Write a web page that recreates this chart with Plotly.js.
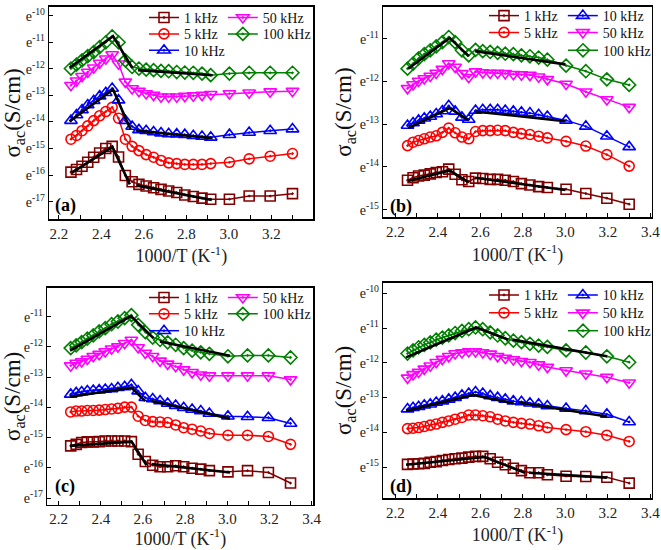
<!DOCTYPE html>
<html>
<head>
<meta charset="utf-8">
<script src="https://cdn.plot.ly/plotly-3.0.1.min.js"></script>
<style>html,body{margin:0;padding:0;background:#fff;}#chart{width:661px;height:550px;}</style>
</head>
<body>
<div id="chart"></div>
<script>
// 1000/T values (K^-1) of the measurement temperatures
const xT = [2.257, 2.283, 2.309, 2.336, 2.364, 2.392, 2.421, 2.451, 2.481, 2.513, 2.545, 2.577, 2.611, 2.646, 2.681, 2.717, 2.755, 2.793, 2.833, 2.874, 2.915, 3.003, 3.096, 3.195, 3.300];
const freqLabels = ['1 kHz', '5 kHz', '10 kHz', '50 kHz', '100 kHz'];

// ln(sigma_ac) values, panel (a)
const a1k   = [-15.89, -15.79, -15.67, -15.52, -15.33, -15.17, -15.00, -14.92, -15.32, -16.02, -16.25, -16.35, -16.41, -16.48, -16.54, -16.60, -16.66, -16.75, -16.81, -16.87, -16.91, -16.91, -16.79, -16.79, -16.70];
const a5k   = [-14.65, -14.51, -14.33, -14.15, -13.95, -13.77, -13.61, -13.45, -13.86, -14.65, -14.92, -15.08, -15.23, -15.33, -15.45, -15.54, -15.57, -15.60, -15.60, -15.60, -15.57, -15.52, -15.39, -15.29, -15.19];
const a10k  = [-13.95, -13.74, -13.55, -13.36, -13.20, -13.03, -12.90, -12.74, -13.18, -13.95, -14.17, -14.30, -14.33, -14.38, -14.42, -14.45, -14.46, -14.48, -14.52, -14.55, -14.58, -14.48, -14.40, -14.33, -14.27];
const a50k  = [-12.62, -12.45, -12.28, -12.12, -11.96, -11.78, -11.62, -11.46, -11.81, -12.49, -12.74, -12.84, -12.93, -12.99, -13.05, -13.05, -13.05, -13.03, -13.01, -12.99, -12.96, -12.93, -12.90, -12.86, -12.84];
const a100k = [-11.99, -11.84, -11.68, -11.52, -11.37, -11.18, -11.00, -10.78, -11.00, -11.68, -11.93, -11.99, -12.03, -12.05, -12.08, -12.09, -12.12, -12.14, -12.15, -12.18, -12.24, -12.18, -12.15, -12.15, -12.15];
// panel (b)
const b1k   = [-14.31, -14.25, -14.21, -14.19, -14.16, -14.13, -14.11, -14.05, -14.17, -14.30, -14.34, -14.26, -14.27, -14.29, -14.29, -14.31, -14.34, -14.39, -14.42, -14.46, -14.48, -14.52, -14.62, -14.73, -14.87];
const b5k   = [-13.50, -13.42, -13.38, -13.34, -13.30, -13.27, -13.19, -13.09, -13.20, -13.30, -13.34, -13.17, -13.15, -13.15, -13.14, -13.15, -13.19, -13.22, -13.24, -13.28, -13.32, -13.40, -13.51, -13.71, -13.98];
const b10k  = [-13.03, -12.97, -12.91, -12.86, -12.82, -12.76, -12.69, -12.57, -12.70, -12.84, -12.89, -12.68, -12.66, -12.66, -12.66, -12.68, -12.70, -12.72, -12.74, -12.78, -12.82, -12.91, -13.05, -13.28, -13.53];
const b50k  = [-12.16, -12.07, -11.99, -11.93, -11.87, -11.80, -11.71, -11.58, -11.66, -11.81, -11.90, -11.77, -11.79, -11.80, -11.80, -11.81, -11.83, -11.84, -11.85, -11.89, -11.95, -12.06, -12.24, -12.42, -12.60];
const b100k = [-11.70, -11.58, -11.46, -11.36, -11.27, -11.18, -11.08, -10.96, -11.08, -11.27, -11.39, -11.26, -11.29, -11.31, -11.33, -11.35, -11.36, -11.39, -11.41, -11.44, -11.49, -11.63, -11.76, -11.95, -12.08];
// panel (c)
const c1k   = [-15.27, -15.22, -15.16, -15.14, -15.14, -15.13, -15.11, -15.11, -15.11, -15.11, -15.13, -15.55, -15.79, -15.91, -15.96, -15.96, -15.93, -15.96, -16.01, -16.04, -16.09, -16.13, -16.09, -16.15, -16.50];
const c5k   = [-14.15, -14.12, -14.12, -14.10, -14.10, -14.09, -14.07, -14.05, -14.03, -13.99, -13.99, -14.29, -14.43, -14.47, -14.48, -14.50, -14.58, -14.67, -14.72, -14.78, -14.86, -14.92, -14.92, -14.96, -15.22];
const c10k  = [-13.57, -13.52, -13.49, -13.46, -13.44, -13.43, -13.41, -13.39, -13.35, -13.32, -13.25, -13.46, -13.68, -13.72, -13.79, -13.87, -13.94, -14.01, -14.07, -14.12, -14.20, -14.29, -14.31, -14.34, -14.53];
const c50k  = [-12.62, -12.53, -12.48, -12.40, -12.31, -12.24, -12.15, -12.06, -11.99, -11.88, -11.77, -12.02, -12.20, -12.31, -12.46, -12.56, -12.64, -12.75, -12.84, -12.92, -12.95, -12.95, -12.95, -12.95, -13.08];
const c100k = [-12.04, -11.95, -11.84, -11.73, -11.62, -11.49, -11.38, -11.25, -11.16, -11.05, -10.95, -11.27, -11.51, -11.69, -11.77, -11.85, -11.93, -12.04, -12.12, -12.18, -12.23, -12.31, -12.28, -12.28, -12.35];
// panel (d)
const d1k   = [-14.92, -14.91, -14.90, -14.89, -14.86, -14.84, -14.81, -14.78, -14.76, -14.74, -14.71, -14.69, -14.69, -14.76, -14.86, -14.93, -15.03, -15.10, -15.16, -15.16, -15.22, -15.26, -15.27, -15.29, -15.46];
const d5k   = [-13.89, -13.88, -13.86, -13.83, -13.79, -13.76, -13.71, -13.67, -13.62, -13.57, -13.50, -13.50, -13.52, -13.55, -13.62, -13.67, -13.71, -13.74, -13.76, -13.81, -13.86, -13.92, -13.98, -14.08, -14.26];
const d10k  = [-13.33, -13.29, -13.26, -13.22, -13.19, -13.14, -13.10, -13.05, -13.00, -12.93, -12.88, -12.84, -12.88, -12.95, -13.00, -13.05, -13.10, -13.12, -13.16, -13.19, -13.24, -13.31, -13.38, -13.48, -13.70];
const d50k  = [-12.43, -12.33, -12.26, -12.17, -12.08, -11.98, -11.89, -11.81, -11.73, -11.70, -11.67, -11.67, -11.70, -11.74, -11.81, -11.86, -11.90, -11.95, -11.98, -12.05, -12.12, -12.22, -12.31, -12.41, -12.57];
const d100k = [-11.73, -11.64, -11.55, -11.48, -11.41, -11.33, -11.27, -11.21, -11.14, -11.08, -11.03, -10.98, -11.03, -11.12, -11.21, -11.29, -11.36, -11.40, -11.45, -11.50, -11.54, -11.64, -11.70, -11.81, -11.98];

// linear fit segments (x, ln sigma), null separates segments
const fitA1kX = [2.26, 2.452, 2.534, null, 2.565, 2.92],   fitA1kY = [-15.92, -14.94, -16.35, null, -16.39, -16.94];
const fitA10kX = [2.25, 2.455, 2.537, null, 2.562, 2.924], fitA10kY = [-13.98, -12.78, -14.27, null, -14.32, -14.61];
const fitA100kX = [2.25, 2.455, 2.546, null, 2.573, 2.924], fitA100kY = [-11.96, -10.77, -11.97, null, -12.05, -12.24];
const fitB1kX = [2.26, 2.455, 2.545, null, 2.575, 3.0],    fitB1kY = [-14.33, -14.08, -14.36, null, -14.25, -14.54];
const fitB10kX = [2.26, 2.455, 2.545, null, 2.575, 3.0],   fitB10kY = [-13.09, -12.62, -12.91, null, -12.70, -12.93];
const fitB100kX = [2.26, 2.455, 2.545, null, 2.575, 3.0],  fitB100kY = [-11.70, -10.98, -11.41, null, -11.29, -11.60];
const fitC1kX = [2.254, 2.546, 2.617, null, 2.641, 3.013], fitC1kY = [-15.27, -15.13, -15.91, null, -15.87, -16.15];
const fitC10kX = [2.254, 2.546, 2.61, null, 2.641, 3.013], fitC10kY = [-13.65, -13.35, -13.79, null, -13.79, -14.37];
const fitC100kX = [2.254, 2.543, 2.65, null, 2.68, 3.013], fitC100kY = [-12.12, -10.98, -11.71, null, -11.82, -12.29];
const fitD1kX = [2.25, 2.62, 2.81, null, 2.83, 3.195],     fitD1kY = [-14.93, -14.71, -15.16, null, -15.16, -15.30];
const fitD10kX = [2.25, 2.565, 2.755, null, 2.78, 3.195],  fitD10kY = [-13.38, -12.92, -13.16, null, -13.14, -13.54];
const fitD100kX = [2.25, 2.58, 2.73, null, 2.75, 3.195],   fitD100kY = [-11.84, -10.98, -11.33, null, -11.33, -11.81];

const yTickVals = [-17, -16, -15, -14, -13, -12, -11, -10];
const yTickText = ['e<sup>-17</sup>', 'e<sup>-16</sup>', 'e<sup>-15</sup>', 'e<sup>-14</sup>', 'e<sup>-13</sup>', 'e<sup>-12</sup>', 'e<sup>-11</sup>', 'e<sup>-10</sup>'];
const xTickVals = [2.2, 2.4, 2.6, 2.8, 3.0, 3.2, 3.4];
const xTickText = ['2.2', '2.4', '2.6', '2.8', '3.0', '3.2', '3.4'];
const panelLabels = ['(a)', '(b)', '(c)', '(d)'];

const colors = ['#800000', '#ff0000', '#0000ff', '#ff00ff', '#008000'];
const symbols = ['square-open-dot', 'circle-open-dot', 'triangle-up-open-dot', 'triangle-down-open-dot', 'diamond-open-dot'];
const msizes = [10, 10, 11, 11, 10];
const FONT = 'Liberation Serif, Times New Roman, serif';

// legend rows: which series go in which row
const rowsAC = [[0, 3], [1, 4], [2]];
const rowsBD = [[0, 2], [1, 3], [4]];

const panels = [
  {series: [a1k, a5k, a10k, a50k, a100k], fits: [[fitA1kX, fitA1kY], [fitA10kX, fitA10kY], [fitA100kX, fitA100kY]], rows: rowsAC, lastCol: 0},
  {series: [b1k, b5k, b10k, b50k, b100k], fits: [[fitB1kX, fitB1kY], [fitB10kX, fitB10kY], [fitB100kX, fitB100kY]], rows: rowsBD, lastCol: 1},
  {series: [c1k, c5k, c10k, c50k, c100k], fits: [[fitC1kX, fitC1kY], [fitC10kX, fitC10kY], [fitC100kX, fitC100kY]], rows: rowsAC, lastCol: 0},
  {series: [d1k, d5k, d10k, d50k, d100k], fits: [[fitD1kX, fitD1kY], [fitD10kX, fitD10kY], [fitD100kX, fitD100kY]], rows: rowsBD, lastCol: 1}
];

// layout geometry (pixels -> paper)
const W = 661, H = 550;
const geom = [
  {x0: 49.3, x1: 313.3, y0: 2.7, y1: 216.7, xr: [2.155, 3.398], yr: [-17.66, -9.66], xt: 6, yt: [-17,-10], lab: [0.014, 0.064]},
  {x0: 383.3, x1: 651.7, y0: 2.7, y1: 215, xr: [2.143, 3.406], yr: [-15.18, -10.25], xt: 7, yt: [-15,-11], lab: [0.018, 0.054]},
  {x0: 47.3, x1: 313.3, y0: 286, y1: 504.5, xr: [2.146, 3.408], yr: [-17.22, -10.05], xt: 7, yt: [-17,-11], lab: [0.021, 0.085]},
  {x0: 383.3, x1: 651.7, y0: 280.7, y1: 497.7, xr: [2.143, 3.406], yr: [-15.89, -9.69], xt: 7, yt: [-15,-10], lab: [0.018, 0.054]}
];
// legend: column-1 left edge (px) and row centres (px)
const legendGeom = [
  {x: 144, rows: [14, 30.5, 47]},
  {x: 484, rows: [12, 29, 47]},
  {x: 144, rows: [296, 312.5, 329.5]},
  {x: 484, rows: [293.5, 311.5, 329.5]}
];
const COL_STEP = 79;

const traces = [];
const layout = {
  width: W, height: H,
  margin: {l: 0, r: 0, t: 0, b: 0},
  paper_bgcolor: '#fff', plot_bgcolor: '#fff',
  font: {family: FONT, color: '#000'},
  showlegend: true,
  annotations: [],
};

panels.forEach((p, i) => {
  const n = i === 0 ? '' : String(i + 1);
  const xa = 'x' + n, ya = 'y' + n;
  const lgOf = {};
  p.rows.forEach((row, r) => {
    const idx = i * 3 + r;
    const lg = 'legend' + (idx === 0 ? '' : String(idx + 1));
    row.forEach(k => { lgOf[k] = lg; });
    const lx = legendGeom[i].x + ((r === 2 && p.lastCol === 1) ? COL_STEP : 0);
    layout[lg] = {
      orientation: 'h', traceorder: 'normal',
      x: lx / W, y: 1 - legendGeom[i].rows[r] / H, xanchor: 'left', yanchor: 'middle',
      bgcolor: 'rgba(0,0,0,0)', borderwidth: 0, itemwidth: 30,
      font: {family: FONT, size: 14, color: '#111'}
    };
  });
  p.series.forEach((s, k) => {
    traces.push({
      type: 'scatter', mode: 'lines+markers',
      x: xT, y: s, name: freqLabels[k],
      xaxis: xa, yaxis: ya, legend: lgOf[k],
      line: {color: colors[k], width: 1.5},
      marker: {symbol: symbols[k], size: msizes[k], color: colors[k], line: {color: colors[k], width: 1.6}},
      cliponaxis: false
    });
  });
  p.fits.forEach(f => {
    traces.push({
      type: 'scatter', mode: 'lines', x: f[0], y: f[1],
      xaxis: xa, yaxis: ya, showlegend: false, hoverinfo: 'skip',
      line: {color: '#000', width: 2.6}
    });
  });
  const g = geom[i];
  const tvx = xTickVals.slice(0, g.xt), ttx = xTickText.slice(0, g.xt);
  const tvy = yTickVals.filter(v => v >= g.yt[0] && v <= g.yt[1]);
  const tty = tvy.map(v => yTickText[yTickVals.indexOf(v)]);
  layout['xaxis' + n] = {
    domain: [g.x0 / W, g.x1 / W], anchor: ya, range: g.xr,
    tickmode: 'array', tickvals: tvx, ticktext: ttx,
    ticks: 'inside', ticklen: 4, tickwidth: 1, tickcolor: '#000',
    minor: {tickmode: 'linear', tick0: 2.1, dtick: 0.1, ticks: 'inside', ticklen: 4, tickwidth: 1, tickcolor: '#000'},
    showline: true, linecolor: '#000', linewidth: 1.5, mirror: true,
    showgrid: false, zeroline: false,
    tickfont: {family: FONT, size: 15, color: '#222'},
    title: {text: '1000/T (K<sup>-1</sup>)', font: {family: FONT, size: 18, color: '#222'}, standoff: 9}
  };
  layout['yaxis' + n] = {
    domain: [1 - g.y1 / H, 1 - g.y0 / H], anchor: xa, range: g.yr,
    tickmode: 'array', tickvals: tvy, ticktext: tty,
    ticks: 'inside', ticklen: 4, tickwidth: 1, tickcolor: '#000',
    showline: true, linecolor: '#000', linewidth: 1.5, mirror: true,
    showgrid: false, zeroline: false,
    tickfont: {family: FONT, size: 14, color: '#222'},
    title: {text: 'σ<sub>ac</sub>(S/cm)', font: {family: FONT, size: 23, color: '#111'}, standoff: 1}
  };
  layout.annotations.push({
    text: '<b>' + panelLabels[i] + '</b>', xref: xa + ' domain', yref: ya + ' domain',
    x: g.lab[0], y: g.lab[1], xanchor: 'left', yanchor: 'middle', showarrow: false,
    font: {family: FONT, size: 18, color: '#000'}
  });
});

Plotly.newPlot('chart', traces, layout, {staticPlot: true, displayModeBar: false});
</script>
</body>
</html>
